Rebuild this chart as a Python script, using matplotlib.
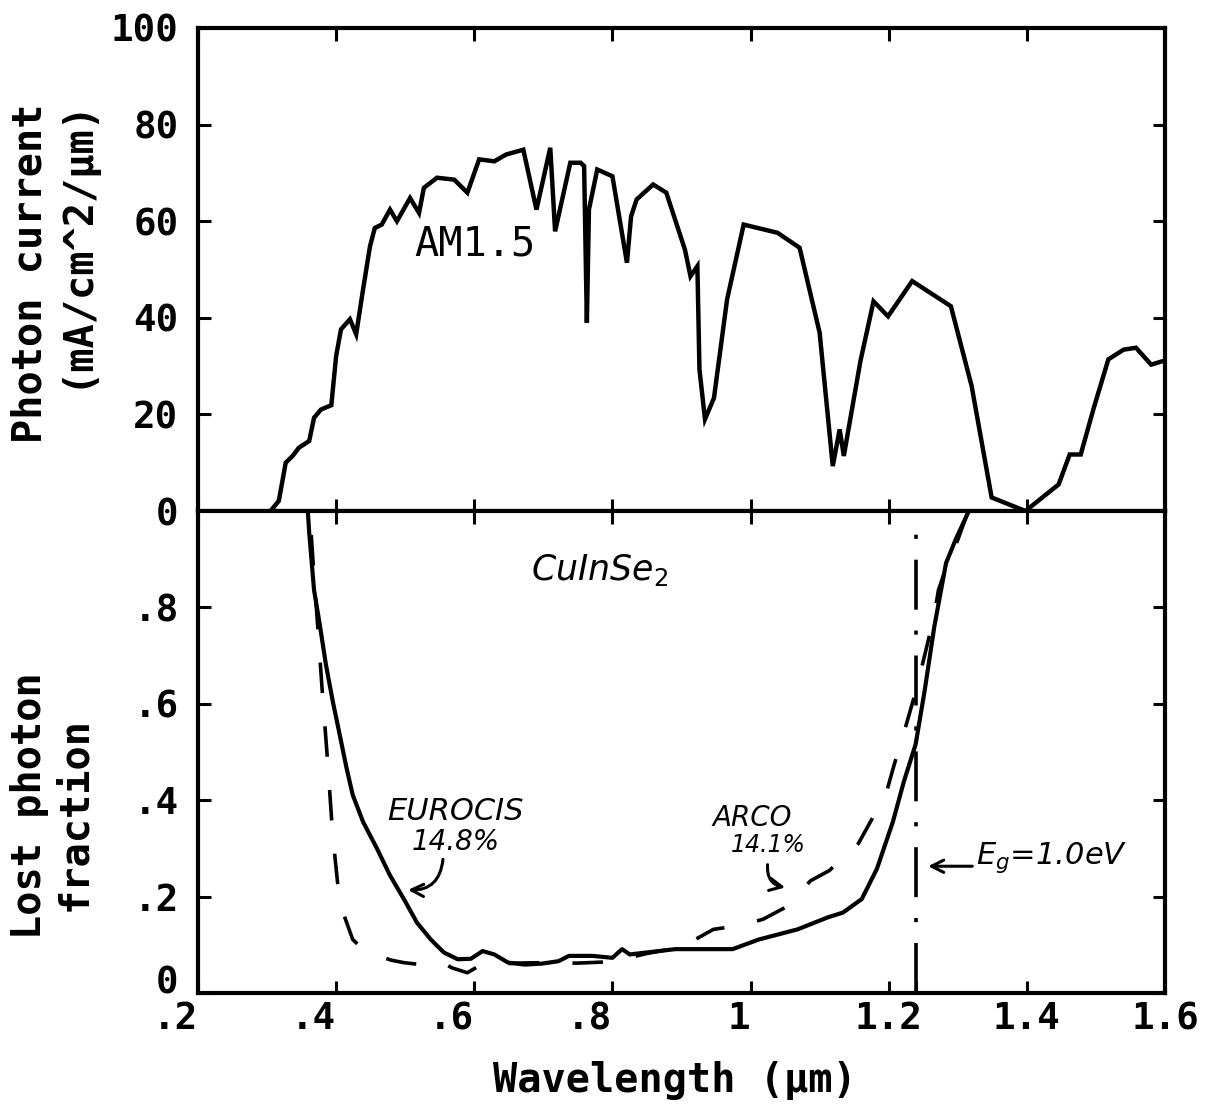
"""
plot.py
AM1.5 photon current and lost photon fraction of two CuInSe2 cells.
"""

import matplotlib
matplotlib.use("Agg")
import matplotlib.pyplot as plt

# -------------------- Data --------------------
# AM1.5 photon current (mA/cm^2/um)
am_wl = [0.305, 0.317, 0.327, 0.337, 0.346, 0.361, 0.368, 0.378, 0.393, 0.400,
         0.407, 0.420, 0.429, 0.439, 0.449, 0.456, 0.466, 0.478, 0.488, 0.507,
         0.520, 0.527, 0.546, 0.571, 0.590, 0.607, 0.629, 0.646, 0.671, 0.690,
         0.710, 0.717, 0.739, 0.754, 0.759, 0.763, 0.766, 0.778, 0.800, 0.821,
         0.827, 0.835, 0.859, 0.878, 0.905, 0.913, 0.923, 0.926, 0.934, 0.947,
         0.966, 0.990, 1.039, 1.071, 1.100, 1.119, 1.129, 1.135, 1.159, 1.178,
         1.199, 1.234, 1.290, 1.320, 1.349, 1.398, 1.446, 1.462, 1.478, 1.497,
         1.518, 1.540, 1.558, 1.580, 1.596, 1.600]
am_current = [0, 2.1, 10, 11.4, 13.1, 14.5, 19.3, 21, 21.9, 32.1,
              37.6, 39.7, 36.6, 45.9, 54.8, 58.6, 59.3, 62.4, 60, 64.8,
              61.7, 66.9, 69, 68.6, 65.9, 72.8, 72.4, 73.8, 74.8, 62.4,
              75.2, 57.9, 72.1, 72.1, 71.4, 39, 62.4, 70.7, 69.3, 51.4,
              61, 64.5, 67.6, 65.9, 54.1, 48.6, 50.7, 29.3, 19, 23.4,
              43.8, 59.3, 57.6, 54.5, 36.9, 9.3, 16.9, 11.4, 31, 43.4,
              40.3, 47.6, 42.4, 25.9, 2.8, 0, 5.5, 11.7, 11.7, 21.4,
              31.4, 33.4, 33.8, 30.3, 31, 31]

# Lost photon fraction, EUROCIS 14.8% (solid)
eurocis_wl = [0.359, 0.361, 0.368, 0.376, 0.385, 0.395, 0.405, 0.415, 0.424, 0.439,
              0.459, 0.478, 0.498, 0.517, 0.537, 0.556, 0.576, 0.595, 0.612, 0.629,
              0.649, 0.673, 0.698, 0.722, 0.737, 0.771, 0.800, 0.814, 0.825, 0.891,
              0.974, 1.012, 1.068, 1.112, 1.134, 1.161, 1.183, 1.206, 1.222, 1.239,
              1.252, 1.266, 1.283, 1.297, 1.316]
eurocis_loss = [1.0, 0.955, 0.836, 0.767, 0.683, 0.606, 0.537, 0.467, 0.411, 0.355,
                0.300, 0.244, 0.195, 0.146, 0.111, 0.084, 0.070, 0.071, 0.087, 0.080,
                0.063, 0.059, 0.061, 0.066, 0.077, 0.077, 0.073, 0.091, 0.080, 0.091,
                0.091, 0.111, 0.132, 0.157, 0.167, 0.195, 0.258, 0.355, 0.439, 0.516,
                0.627, 0.760, 0.892, 0.941, 1.0]

# Lost photon fraction, ARCO 14.1% (dashed)
arco_wl = [0.364, 0.367, 0.373, 0.380, 0.388, 0.395, 0.402, 0.410, 0.424, 0.444,
           0.461, 0.480, 0.498, 0.522, 0.539, 0.555, 0.568, 0.590, 0.610, 0.632,
           0.660, 0.700, 0.750, 0.800, 0.850, 0.900, 0.946, 0.985, 1.018, 1.051,
           1.087, 1.114, 1.156, 1.175, 1.197, 1.208, 1.222, 1.240, 1.255, 1.266,
           1.272, 1.286, 1.300, 1.315]
arco_loss = [0.95, 0.885, 0.767, 0.624, 0.474, 0.328, 0.230, 0.167, 0.111, 0.084,
             0.077, 0.068, 0.063, 0.059, 0.066, 0.062, 0.052, 0.042, 0.059, 0.059,
             0.062, 0.063, 0.062, 0.065, 0.082, 0.095, 0.132, 0.140, 0.153, 0.178,
             0.233, 0.254, 0.310, 0.359, 0.418, 0.474, 0.540, 0.630, 0.718, 0.784,
             0.836, 0.895, 0.940, 1.0]

EG_WL = 1.24   # um, band gap Eg = 1.0 eV

x_ticks = [0.2, 0.4, 0.6, 0.8, 1.0, 1.2, 1.4, 1.6]
x_labels = [".2", ".4", ".6", ".8", "1", "1.2", "1.4", "1.6"]
top_yticks = [0, 20, 40, 60, 80, 100]
top_ylabels = ["0", "20", "40", "60", "80", "100"]
bot_yticks = [0, 0.2, 0.4, 0.6, 0.8]
bot_ylabels = ["0", ".2", ".4", ".6", ".8"]

# -------------------- Style --------------------
plt.rcParams["font.family"] = "DejaVu Sans Mono"
plt.rcParams["lines.scale_dashes"] = False

W, H = 1219, 1108
fig = plt.figure(figsize=(W / 100, H / 100), dpi=100)
left, width = 198 / W, (1165 - 198) / W
ax1 = fig.add_axes([left, 1 - 511 / H, width, (511 - 28) / H])
ax2 = fig.add_axes([left, 1 - 993 / H, width, (993 - 511) / H])

for ax in (ax1, ax2):
    ax.set_xlim(0.2, 1.6)
    ax.set_xticks(x_ticks)
    for s in ax.spines.values():
        s.set_linewidth(3)
    ax.tick_params(direction="in", length=9, width=2.2, top=True, right=True,
                   labelsize=27, pad=14)
    ax.tick_params(axis="x", pad=6)

# -------------------- Top: photon current --------------------
ax1.plot(am_wl, am_current, color="black", lw=3.2, solid_joinstyle="miter")
ax1.set_ylim(0, 100)
ax1.set_yticks(top_yticks)
ax1.set_yticklabels(top_ylabels, fontweight="bold")
ax1.tick_params(axis="x", labelbottom=False)
ax1.text(0.601, 55.1, "AM1.5", fontsize=29, ha="center", va="center")

# -------------------- Bottom: lost photon fraction --------------------
ax2.plot(eurocis_wl, eurocis_loss, color="black", lw=3)
ax2.plot(arco_wl, arco_loss, color="black", lw=2.6, dashes=(22, 24))
ax2.plot([EG_WL, EG_WL], [0, 0.96], color="black", lw=2.6,
         dashes=(36, 15, 3, 15))
ax2.set_ylim(0, 1)
ax2.set_yticks(bot_yticks)
ax2.set_yticklabels(bot_ylabels, fontweight="bold")
ax2.get_yticklabels()[0].set_va("baseline")
ax2.set_xticks([EG_WL], minor=True)
ax2.tick_params(axis="x", which="minor", direction="in", length=9, width=2.2,
                top=False)
ax2.set_xticklabels(x_labels, fontweight="bold")
for lab, val in zip(ax2.get_xticklabels(), x_ticks):
    lab.set_ha("right" if val < 1.1 else "center")

hand = dict(family="DejaVu Sans", style="italic", ha="center", va="center")
ax2.text(0.782, 0.878, "CuInSe$_2$", fontsize=25, **hand)
ax2.text(0.572, 0.376, "EUROCIS", fontsize=22, **hand)
ax2.text(0.573, 0.313, "14.8%", fontsize=20, **hand)
ax2.text(1.003, 0.363, "ARCO", fontsize=20, **hand)
ax2.text(1.026, 0.307, "14.1%", fontsize=17, **hand)
ax2.text(1.436, 0.280, "E$_g$=1.0eV", fontsize=22, **hand)

arrow = dict(arrowstyle="->", color="black", lw=2.2, mutation_scale=22)
ax2.annotate("", xy=(0.500, 0.214), xytext=(0.555, 0.283),
             arrowprops=dict(connectionstyle="arc3,rad=-0.5", **arrow))
ax2.annotate("", xy=(1.054, 0.218), xytext=(1.025, 0.272),
             arrowprops=dict(connectionstyle="arc3,rad=0.5", **arrow))
ax2.annotate("", xy=(1.253, 0.263), xytext=(1.325, 0.263),
             arrowprops=dict(connectionstyle="arc3,rad=0", **arrow))

# -------------------- Axis titles --------------------
title_kw = dict(fontsize=29, fontweight="bold", ha="center", va="center")
fig.text(30 / W, 1 - 273 / H, "Photon current", rotation=90, **title_kw)
fig.text(75 / W, 1 - 242 / H, "(mA/cm^2/µm)", rotation=90, **title_kw)
fig.text(30 / W, 1 - 806 / H, "Lost photon", rotation=90, **title_kw)
fig.text(75 / W, 1 - 814 / H, "fraction", rotation=90, **title_kw)
fig.text(675 / W, 1 - 1080 / H, "Wavelength (µm)", **title_kw)

fig.savefig("out.png", dpi=100)
